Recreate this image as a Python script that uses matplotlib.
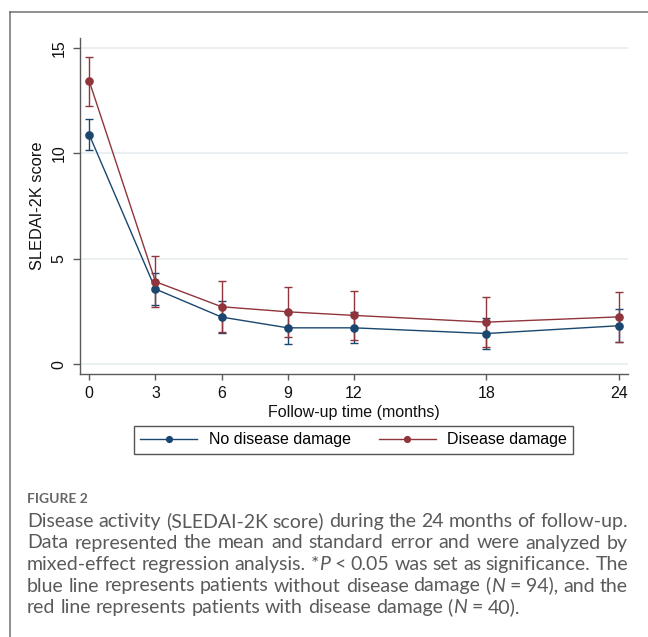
import matplotlib
matplotlib.use('Agg')
import matplotlib.pyplot as plt
from matplotlib.lines import Line2D

# ---------------- data ----------------
months = [0, 3, 6, 9, 12, 18, 24]
no_damage_mean = [10.88, 3.56, 2.23, 1.72, 1.72, 1.45, 1.82]
no_damage_se = [0.74, 0.78, 0.75, 0.77, 0.74, 0.75, 0.79]
damage_mean = [13.42, 3.91, 2.72, 2.48, 2.31, 1.99, 2.24]
damage_se = [1.16, 1.20, 1.20, 1.19, 1.17, 1.19, 1.20]
series_labels = ["No disease damage", "Disease damage"]
y_ticks = [0, 5, 10, 15]
x_label = "Follow-up time (months)"
y_label = "SLEDAI-2K score"
caption_title = "FIGURE 2"
caption_lines = [
    [[("Disease", 0)], [("activity", 0)], [("(SLEDAI-2K", 0)], [("score)", 0)], [("during", 0)],
     [("the", 0)], [("24", 0)], [("months", 0)], [("of", 0)], [("follow-up.", 0)]],
    [[("Data", 0)], [("represented", 0)], [("the", 0)], [("mean", 0)], [("and", 0)], [("standard", 0)],
     [("error", 0)], [("and", 0)], [("were", 0)], [("analyzed", 0)], [("by", 0)]],
    [[("mixed-effect", 0)], [("regression", 0)], [("analysis.", 0)], [("*", 0), ("P", 1)], [("<", 0)],
     [("0.05", 0)], [("was", 0)], [("set", 0)], [("as", 0)], [("significance.", 0)], [("The", 0)]],
    [[("blue", 0)], [("line", 0)], [("represents", 0)], [("patients", 0)], [("without", 0)],
     [("disease", 0)], [("damage", 0)], [("(", 0), ("N", 1)], [("=", 0)], [("94),", 0)], [("and", 0)],
     [("the", 0)]],
    [[("red", 0)], [("line", 0)], [("represents", 0)], [("patients", 0)], [("with", 0)],
     [("disease", 0)], [("damage", 0)], [("(", 0), ("N", 1)], [("=", 0)], [("40).", 0)]],
]

BLUE = "#1a476f"
RED = "#90353b"
W, H = 648, 637

fig = plt.figure(figsize=(W / 100, H / 100), dpi=100)
plt.rcParams['font.family'] = ['Liberation Sans', 'DejaVu Sans']

ax = fig.add_axes([80 / W, 1 - 374 / H, (628 - 80) / W, (374 - 38) / H])

for mean, se, col, lab in [(no_damage_mean, no_damage_se, BLUE, series_labels[0]),
                           (damage_mean, damage_se, RED, series_labels[1])]:
    ax.errorbar(months, mean, yerr=se, fmt='none', ecolor=col, elinewidth=1.0,
                capsize=2.6, capthick=1.0, zorder=3)
    ax.plot(months, mean, '-o', color=col, lw=1.0, ms=5.2, label=lab, zorder=4)

ax.set_xlim(-0.42, 24.42)
ax.set_ylim(-0.47, 15.47)
ax.set_xticks(months)
ax.set_yticks(y_ticks)
ax.yaxis.grid(True, color='#e8eef1', lw=1.3)
ax.set_axisbelow(True)
for s in ['top', 'right']:
    ax.spines[s].set_visible(False)
for s in ['left', 'bottom']:
    ax.spines[s].set_color('#5a5a5a')
    ax.spines[s].set_linewidth(1.0)
ax.tick_params(axis='both', colors='#5a5a5a', labelcolor='#111111', labelsize=11.5,
               length=4.5, width=1.0, pad=4.5)
ax.tick_params(axis='y', labelrotation=90, length=5)
for t in ax.get_yticklabels():
    t.set_va('center')
ax.set_xlabel(x_label, fontsize=11.5, labelpad=2.5, color='#111111')
ax.set_ylabel(y_label, fontsize=11.8, labelpad=5, color='#111111')

leg = ax.legend(loc='center', bbox_to_anchor=(353.5 / W, 1 - 440 / H),
                bbox_transform=fig.transFigure, ncol=2, fontsize=11.5,
                frameon=True, fancybox=False, edgecolor='#555555', framealpha=1,
                handlelength=3.6, handletextpad=0.7, columnspacing=1.75,
                borderpad=0.38, numpoints=1, markerscale=0.8)
leg.get_frame().set_linewidth(1.0)

# border of the figure panel (top and left visible)
fig.add_artist(Line2D([10 / W, 10 / W], [0, 1 - 12 / H], transform=fig.transFigure,
                      color='#707070', lw=1.1))
fig.add_artist(Line2D([10 / W, 1], [1 - 12 / H, 1 - 12 / H], transform=fig.transFigure,
                      color='#707070', lw=1.1))

# caption
CAP_COLOR = '#5a5a5a'
CAP_FAMILY = ['Lato', 'DejaVu Sans']
fig.text(27 / W, 1 - 503 / H, caption_title, fontsize=10, fontweight='bold',
         family=CAP_FAMILY, color='#666666', va='baseline', ha='left')

fig.canvas.draw()
renderer = fig.canvas.get_renderer()


def measure(s, size, italic):
    t = fig.text(0, 0, s, fontsize=size, family=CAP_FAMILY,
                 style='italic' if italic else 'normal')
    w = t.get_window_extent(renderer).width
    t.remove()
    return w


def line_natural(line, size):
    sp = measure("x x", size, 0) - measure("xx", size, 0)
    widths = [sum(measure(s, size, it) for s, it in word) for word in line]
    return widths, sp


LEFT, RIGHT = 27, 628
LAST_END = 520
base = 13.0
ws, sp = line_natural(caption_lines[-1], base)
size = base * (LAST_END - LEFT) / (sum(ws) + sp * (len(ws) - 1))
# keep every justified line from overflowing
for line in caption_lines[:-1]:
    ws, sp = line_natural(line, size)
    need = sum(ws) + 0.45 * sp * (len(ws) - 1)
    if need > RIGHT - LEFT:
        size *= (RIGHT - LEFT) / need

for i, line in enumerate(caption_lines):
    y = 527 + 21.5 * i
    ws, sp = line_natural(line, size)
    if i < len(caption_lines) - 1:
        gap = (RIGHT - LEFT - sum(ws)) / (len(ws) - 1)
    else:
        gap = sp
    x = LEFT
    for word, w in zip(line, ws):
        xx = x
        for s, it in word:
            fig.text(xx / W, 1 - y / H, s, fontsize=size, family=CAP_FAMILY,
                     style='italic' if it else 'normal', color=CAP_COLOR,
                     va='baseline', ha='left')
            xx += measure(s, size, it)
        x += w + gap

fig.savefig('out.png', dpi=100)
